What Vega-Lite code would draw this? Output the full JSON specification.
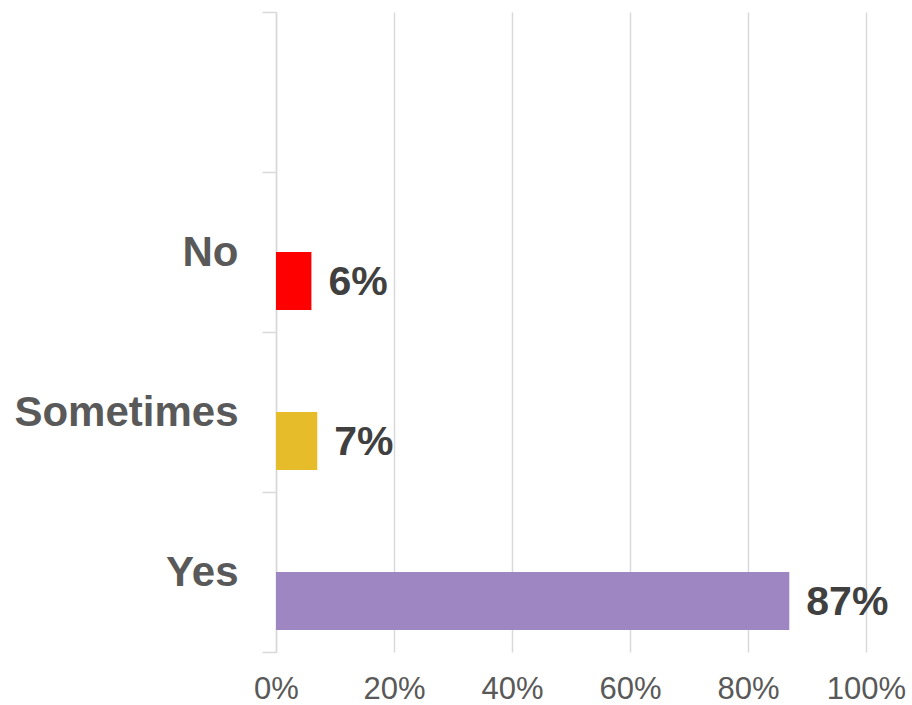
{
  "$schema": "https://vega.github.io/schema/vega-lite/v6.json",
  "width": 590,
  "height": 640,
  "autosize": "none",
  "padding": {"left": 276, "top": 12, "right": 46, "bottom": 53},
  "background": "white",
  "config": {"view": {"stroke": null}, "font": "Liberation Sans"},
  "data": {
    "values": [
      {"answer": "No", "share": 0.06, "color": "#FF0000"},
      {"answer": "Sometimes", "share": 0.07, "color": "#E6BC2A"},
      {"answer": "Yes", "share": 0.87, "color": "#9D86C1"}
    ]
  },
  "encoding": {
    "y": {
      "field": "answer",
      "type": "nominal",
      "scale": {"domain": [" ", "No", "Sometimes", "Yes"], "paddingInner": 0, "paddingOuter": 0},
      "axis": {
        "title": null,
        "tickBand": "extent",
        "domainColor": "#d9d9d9",
        "domainWidth": 1.5,
        "tickColor": "#d9d9d9",
        "tickWidth": 1.5,
        "tickSize": 14,
        "labelPadding": 24,
        "labelFont": "Liberation Sans",
        "labelFontSize": 42,
        "labelFontWeight": "bold",
        "labelColor": "#595959",
        "labelLimit": 400,
        "grid": false
      }
    },
    "x": {
      "field": "share",
      "type": "quantitative",
      "scale": {"domain": [0, 1], "nice": false},
      "axis": {
        "title": null,
        "format": ".0%",
        "values": [0, 0.2, 0.4, 0.6, 0.8, 1],
        "domain": false,
        "ticks": false,
        "grid": true,
        "gridColor": "#d9d9d9",
        "gridWidth": 1.5,
        "labelPadding": 22,
        "labelFont": "Liberation Sans",
        "labelFontSize": 31,
        "labelColor": "#595959",
        "labelFlush": false
      }
    }
  },
  "layer": [
    {
      "mark": {"type": "bar", "height": 58, "yOffset": 29},
      "encoding": {
        "color": {"field": "color", "type": "nominal", "scale": null, "legend": null}
      }
    },
    {
      "mark": {"type": "text", "align": "left", "baseline": "middle", "dx": 17, "yOffset": 31, "font": "Liberation Sans", "fontSize": 41, "fontWeight": "bold", "color": "#404040"},
      "encoding": {
        "text": {"field": "share", "type": "quantitative", "format": ".0%"}
      }
    }
  ]
}
